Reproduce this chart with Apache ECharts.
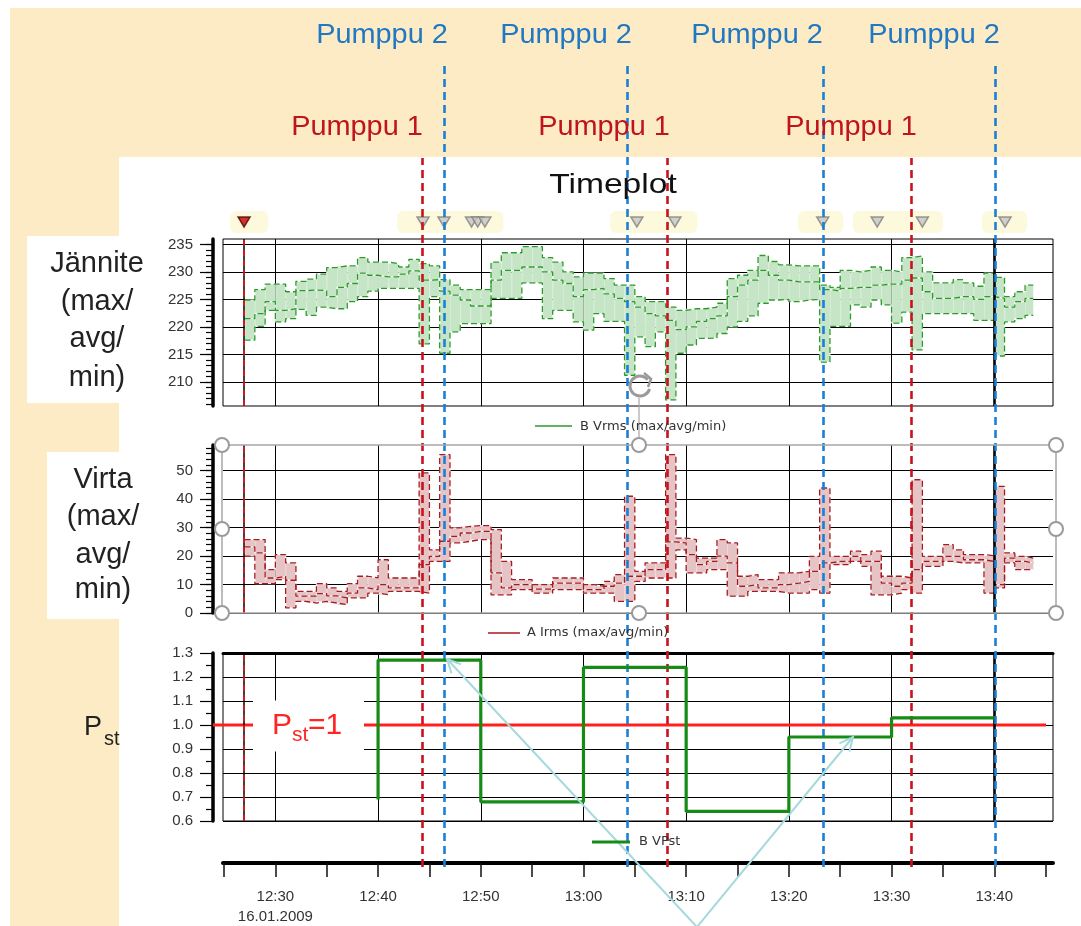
<!DOCTYPE html>
<html>
<head>
<meta charset="utf-8">
<title>Timeplot</title>
<script src="https://cdn.jsdelivr.net/npm/echarts@6/dist/echarts.min.js"></script>
<style>
html,body{margin:0;padding:0;background:#fff;}
#chart{width:1081px;height:926px;}
</style>
</head>
<body>
<div id="chart"></div>
<script>
// ---------------- data (minutes after 12:00, 16.01.2009) ----------------
const minutes = [27,28,29,30,31,32,33,34,35,36,37,38,39,40,41,42,43,44,45,46,47,48,49,50,
  51,52,53,54,55,56,57,58,59,60,61,62,63,64,65,66,67,68,69,70,71,72,73,74,75,76,77,78,79,80,
  81,82,83,84,85,86,87,88,89,90,91,92,93,94,95,96,97,98,99,100,101,102,103];
const endMinute = 103.8;

// B Vrms (V)
const vMax = [224.9,226.8,227.8,227.8,226.4,228.3,228.7,229.6,230.8,231.1,231.1,232.6,231.8,231.8,231.5,230.9,232.3,231.5,231.1,228.6,
  227.6,226.8,226.8,226.8,231.8,233.5,233.5,234.6,234.6,232.6,231.8,230.0,229.1,229.8,
  229.8,228.8,227.6,227.6,225.5,224.6,224.6,223.6,223.0,223.3,223.3,223.6,224.3,228.8,229.4,230.3,233.0,231.9,231.3,231.1,
  231.1,231.1,227.6,227.2,230.3,230.0,230.3,230.9,230.3,230.0,232.6,232.9,230.0,228.0,228.0,228.6,228.0,227.4,229.8,229.0,
  225.5,226.4,227.6];
const vAvg = [221.5,222.4,224.6,223.0,223.3,226.6,226.7,226.6,225.5,227.2,227.9,229.8,229.4,229.1,229.1,229.6,230.2,228.5,228.6,226.5,
  225.8,224.9,223.8,223.8,228.5,230.3,230.3,230.9,230.9,230.0,228.5,227.9,225.5,226.8,
  227.0,226.0,225.2,224.6,223.6,222.4,222.0,221.2,219.5,220.0,221.0,221.5,222.0,225.5,227.6,228.5,230.3,229.4,228.5,228.2,
  228.2,228.2,226.8,226.5,227.0,227.2,227.2,227.6,227.8,227.8,228.5,228.9,226.4,225.2,225.2,225.5,225.5,225.0,225.5,225.2,
  223.6,224.6,225.2];
const vMin = [217.6,220.1,223.0,220.9,221.5,223.2,222.1,223.6,223.3,223.3,224.6,225.5,226.5,227.0,227.0,227.0,227.0,216.9,225.5,215.2,
  219.1,220.6,220.6,220.6,225.2,225.2,225.2,228.0,228.0,221.5,223.0,223.0,220.9,219.4,
  222.4,221.0,221.0,211.2,218.2,216.4,219.1,206.7,215.2,216.7,217.9,218.0,218.8,220.0,221.0,222.0,224.3,224.9,225.0,224.6,
  224.9,225.0,213.6,220.1,220.1,224.0,223.6,224.9,224.0,220.7,222.7,215.8,222.4,222.4,222.4,222.4,222.4,221.2,221.2,214.7,
  220.9,221.5,222.1];

// A Irms (A)
const iMax = [25.8,25.8,15.2,20.5,17.6,7.6,7.6,10.3,8.8,7.6,10.3,12.9,12.3,18.7,12.3,12.3,12.3,49.2,22.2,55.6,
  29.9,30.4,30.7,30.7,29.3,18.1,11.7,11.7,10.0,10.0,12.3,12.3,12.3,10.0,
  9.4,11.1,13.5,41.0,14.6,17.6,17.6,55.6,26.3,25.8,19.3,19.3,25.8,24.6,12.9,13.5,11.7,11.7,14.1,14.1,
  14.6,19.9,43.9,19.9,19.9,21.7,20.5,21.7,12.9,12.9,12.3,46.8,19.9,19.9,24.0,22.2,20.5,20.5,20.1,44.5,
  21.1,19.9,19.3];
const iAvg = [23.2,21.1,12.3,12.9,11.5,5.9,5.9,6.8,6.0,5.3,7.0,8.8,8.2,10.0,8.8,8.8,8.8,17.0,19.9,25.2,
  26.9,28.1,28.7,28.7,14.1,8.8,10.0,10.0,8.4,8.4,10.5,10.5,10.5,8.2,
  8.2,9.4,10.5,12.9,12.9,15.2,15.2,25.0,24.6,20.5,17.0,18.1,20.0,17.6,9.4,10.0,8.8,8.8,10.0,10.5,
  11.1,14.6,17.6,18.1,18.1,19.9,18.1,18.1,10.5,9.4,10.5,15.2,18.1,18.1,19.9,19.9,18.7,18.7,18.1,10.0,
  19.3,18.1,17.6];
const iMin = [20.0,10.3,10.3,11.7,1.8,4.1,3.5,4.1,3.5,2.9,5.3,5.3,7.0,6.4,7.6,7.6,7.6,7.0,18.1,18.1,
  24.6,25.2,25.8,25.8,6.4,6.4,8.2,8.2,7.0,7.0,8.2,8.2,8.2,7.0,
  7.0,7.0,4.1,4.1,11.1,12.3,12.3,12.3,22.2,14.1,14.1,15.2,15.2,5.9,5.9,7.6,7.6,7.6,7.0,7.0,
  7.0,8.2,7.0,17.0,17.0,18.1,16.4,6.4,6.4,7.0,8.2,7.0,16.4,16.4,18.1,17.6,17.6,17.6,7.0,8.8,
  17.6,15.2,15.2];

// B VPst (10-minute values, stamped at interval end)
const pstTimes  = [40, 50, 60, 70, 80, 90, 100];
const pstValues = [0.69, 1.27, 0.68, 1.24, 0.64, 0.95, 1.03];
const pstLimit = 1.0;
const limitStart = 23.9, limitEnd = 105;

// annotations (minutes)
const pump1Times = [44.28, 68.14, 91.9];
const pump2Times = [46.42, 64.24, 83.3, 100.07];
const cursorTimes = [26.95, 100.0];
const alarmTimes = [26.95];
const eventTimes = [44.38, 46.42, 49.1, 49.7, 50.4, 65.2, 68.9, 83.3, 88.6, 93.0, 101.05];
const eventGlows = [[25.6,29.3],[41.85,52.2],[62.6,71.1],[80.9,85.3],[86.25,95.0],[98.8,103.2]];

// axis ticks
const xTicks = [25,30,35,40,45,50,55,60,65,70,75,80,85,90,95,100,105];
const xLabels = [30,40,50,60,70,80,90,100];
const gridTimes = [30,40,50,60,70,80,90,100];
const dateLabel = '16.01.2009';
const vTicks = [210,215,220,225,230,235];
const vMinorTicks = [206,207,208,209,210,211,212,213,214,215,216,217,218,219,220,221,222,223,224,225,226,227,228,229,230,231,232,233,234,235];
const iTicks = [0,10,20,30,40,50];
const iMinorTicks = [0,2,4,6,8,10,12,14,16,18,20,22,24,26,28,30,32,34,36,38,40,42,44,46,48,50,52,54,56,58];
const pTicks = [0.6,0.7,0.8,0.9,1.0,1.1,1.2,1.3];
const pMinorTicks = [0.65,0.75,0.85,0.95,1.05,1.15,1.25];

const X_MIN = 24.9, X_MAX = 105.72;
const V_MIN = 205.6, V_MAX = 236;
const I_MIN = 0, I_MAX = 59;
const P_MIN = 0.6, P_MAX = 1.3;

// ---------------- styles ----------------
const FONT = '"Liberation Sans", Arial, sans-serif';
const BEIGE = '#fdebc6';
const vLine = '#2b9a2b', vBand = '#c6e5c6';
const iLine = '#a51a1f', iBand = '#e6c3c5';
const pstColor = '#168c16';
const blueDash = '#1b7fd6', redDash = '#c8121c';

function hhmm(m){ const h = 12 + Math.floor(m/60); const mm = Math.round(m % 60); return h + ':' + (mm < 10 ? '0' : '') + mm; }
function bandRows(lo, hi){ return minutes.map((t,i)=>[t, i+1 < minutes.length ? minutes[i+1] : endMinute, lo[i], hi[i]]); }
function stepLine(vals){ const d = minutes.map((t,i)=>[t, vals[i]]); d.push([endMinute, vals[vals.length-1]]); return d; }

function bandSeries(xi, yi, lo, hi, color){
  return {type:'custom', xAxisIndex:xi, yAxisIndex:yi, silent:true, z:1, clip:true,
    data: bandRows(lo, hi), encode:{x:[0,1], y:[2,3]},
    renderItem: function(params, api){
      const a = api.coord([api.value(0), api.value(3)]);
      const b = api.coord([api.value(1), api.value(2)]);
      return {type:'group', children:[
        {type:'rect', shape:{x:a[0], y:a[1], width:b[0]-a[0], height:b[1]-a[1]}, style:{fill:color}},
        {type:'line', shape:{x1:a[0]+0.5, y1:a[1], x2:a[0]+0.5, y2:b[1]}, style:{stroke:'rgba(255,255,255,0.3)', lineWidth:0.8}}
      ]};
    }};
}
function stepSeries(xi, yi, name, vals, color){
  return [
    {type:'line', name:name+'_u', xAxisIndex:xi, yAxisIndex:yi, step:'end', data:stepLine(vals), symbol:'none', silent:true, z:2,
      lineStyle:{color:'#ffffff', width:1.3, opacity:0.7}},
    {type:'line', name:name, xAxisIndex:xi, yAxisIndex:yi, step:'end', data:stepLine(vals), symbol:'none', silent:true, z:3,
      lineStyle:{color:color, width:1.3, type:[6,3]}}
  ];
}
function cursorSeries(xi, yi){
  return {type:'line', xAxisIndex:xi, yAxisIndex:yi, data:[], symbol:'none', silent:true, z:4,
    markLine:{silent:true, symbol:['none','none'], label:{show:false}, animation:false,
      data:[
        {xAxis: cursorTimes[0], lineStyle:{color:'#000', width:1.5, type:'solid'}},
        {xAxis: cursorTimes[0], lineStyle:{color:'#e8141c', width:1.6, type:[6,4]}},
        {xAxis: cursorTimes[1], lineStyle:{color:'#000', width:2.6, type:'solid'}}
      ]}};
}
function pumpSeries(xi, yi, times, color){
  return {type:'line', xAxisIndex:xi, yAxisIndex:yi, data:[], symbol:'none', silent:true, z:8,
    markLine:{silent:true, symbol:['none','none'], label:{show:false}, animation:false,
      lineStyle:{color:color, width:2.6, type:[8,5]},
      data: times.map(t=>({xAxis:t}))}};
}
function xPanel(g){
  return {type:'value', gridIndex:g, min:X_MIN, max:X_MAX,
    axisLine:{show:false, onZero:false}, axisTick:{show:false, customValues:gridTimes},
    axisLabel:{show:false}, splitLine:{show:true, lineStyle:{color:'#000', width:1}}};
}
function xHidden(g, mn, mx){ return {type:'value', gridIndex:g, min:mn, max:mx, show:false}; }
function yHidden(g, mn, mx){ return {type:'value', gridIndex:g, min:mn, max:mx, show:false}; }
function yMinor(g, mn, mx, ticks){
  return {type:'value', gridIndex:g, min:mn, max:mx, position:'left', offset:10,
    axisLine:{show:true, onZero:false, lineStyle:{color:'#000', width:3.5}},
    axisTick:{show:true, customValues:ticks, length:7, lineStyle:{color:'#000', width:1.2}},
    axisLabel:{show:false}, splitLine:{show:false}};
}
function yMajor(g, mn, mx, ticks, fmt){
  return {type:'value', gridIndex:g, min:mn, max:mx, position:'left', offset:10,
    axisLine:{show:false, onZero:false},
    axisTick:{show:true, customValues:ticks, length:13, lineStyle:{color:'#000', width:1.2}},
    axisLabel:{show:true, customValues:ticks, formatter:fmt, margin:20, fontSize:15, color:'#333', fontFamily:FONT},
    splitLine:{show:true, lineStyle:{color:'#000', width:1}}};
}
function gridBox(top, height, left, right, show, border){
  return {left:left, right:right, top:top, height:height, show:!!show, borderColor:border||'#000', borderWidth:1,
    backgroundColor:'transparent', containLabel:false, outerBoundsMode:'none'};
}

function arrowHead(tip, from, len, ang){
  const dx = from[0]-tip[0], dy = from[1]-tip[1];
  const L = Math.hypot(dx, dy), ux = dx/L, uy = dy/L;
  const c = Math.cos(ang), s = Math.sin(ang);
  return [[tip[0]+len*(ux*c-uy*s), tip[1]+len*(uy*c+ux*s)], tip, [tip[0]+len*(ux*c+uy*s), tip[1]+len*(uy*c-ux*s)]];
}

function txt(x, y, text, size, color, align, opts){
  const o = {type:'text', x:x, y:y, z:20, silent:true,
    style:{text:text, fontSize:size, fontFamily:FONT, fill:color, textAlign:align||'center', align:align||'center',
      textVerticalAlign:'middle', verticalAlign:'middle'}};
  if (opts) Object.assign(o, opts);
  return o;
}

const arrowA = [447, 659], arrowV = [697, 927], arrowC = [853, 737];

const graphics = [
  // slide background
  {type:'rect', z:-100, silent:true, shape:{x:10, y:8, width:1071, height:149}, style:{fill:BEIGE}},
  {type:'rect', z:-100, silent:true, shape:{x:10, y:157, width:109, height:769}, style:{fill:BEIGE}},
  {type:'rect', z:-99, silent:true, shape:{x:27, y:236, width:92, height:167}, style:{fill:'#fff'}},
  {type:'rect', z:-99, silent:true, shape:{x:47, y:452, width:72, height:167}, style:{fill:'#fff'}},
  // left labels
  txt(97, 264, 'Jännite', 29, '#222'), txt(97, 302, '(max/', 29, '#222'), txt(97, 339, 'avg/', 29, '#222'), txt(97, 378, 'min)', 29, '#222'),
  txt(103, 480, 'Virta', 29, '#222'), txt(103, 517, '(max/', 29, '#222'), txt(103, 555, 'avg/', 29, '#222'), txt(103, 590, 'min)', 29, '#222'),
  txt(84, 728, 'P', 27, '#222', 'left'), txt(104, 739, 'st', 20, '#222', 'left'),
  // title and pump labels
  txt(613, 185, 'Timeplot', 28, '#111', 'center', {scaleX:1.2}),
  txt(382, 36, 'Pumppu 2', 27, '#1f78c1', 'center', {scaleX:1.07}),
  txt(566, 36, 'Pumppu 2', 27, '#1f78c1', 'center', {scaleX:1.07}),
  txt(757, 36, 'Pumppu 2', 27, '#1f78c1', 'center', {scaleX:1.07}),
  txt(934, 36, 'Pumppu 2', 27, '#1f78c1', 'center', {scaleX:1.07}),
  txt(357, 128, 'Pumppu 1', 27, '#c0141c', 'center', {scaleX:1.07}),
  txt(604, 128, 'Pumppu 1', 27, '#c0141c', 'center', {scaleX:1.07}),
  txt(851, 128, 'Pumppu 1', 27, '#c0141c', 'center', {scaleX:1.07}),
  // Pst=1 label
  {type:'rect', z:15, silent:true, shape:{x:253, y:700.5, width:111, height:51}, style:{fill:'#fff'}},
  txt(272, 726, 'P', 30, '#ff2525', 'left'), txt(292, 735, 'st', 21, '#ff2525', 'left'), txt(308, 726, '=1', 30, '#ff2525', 'left'),
  // legends
  {type:'line', z:20, silent:true, shape:{x1:535, y1:426, x2:572, y2:426}, style:{stroke:vLine, lineWidth:1.5}},
  {type:'text', z:20, silent:true, x:580, y:427, style:{text:'B Vrms (max/avg/min)', fontSize:13, fontFamily:'"DejaVu Sans", sans-serif', fill:'#333', textAlign:'left', align:'left', textVerticalAlign:'middle', verticalAlign:'middle'}},
  {type:'line', z:20, silent:true, shape:{x1:488, y1:633, x2:520, y2:633}, style:{stroke:iLine, lineWidth:1.5}},
  {type:'text', z:20, silent:true, x:527, y:633, style:{text:'A Irms (max/avg/min)', fontSize:13, fontFamily:'"DejaVu Sans", sans-serif', fill:'#333', textAlign:'left', align:'left', textVerticalAlign:'middle', verticalAlign:'middle'}},
  {type:'line', z:20, silent:true, shape:{x1:592, y1:842, x2:630, y2:842}, style:{stroke:pstColor, lineWidth:3}},
  {type:'text', z:20, silent:true, x:639, y:842, style:{text:'B VPst', fontSize:13, fontFamily:'"DejaVu Sans", sans-serif', fill:'#333', textAlign:'left', align:'left', textVerticalAlign:'middle', verticalAlign:'middle'}},
  // selection frame of the current panel
  {type:'rect', z:12, silent:true, shape:{x:222, y:445, width:834, height:168}, style:{fill:null, stroke:'#a6a6a6', lineWidth:1.5}},
  {type:'line', z:12, silent:true, shape:{x1:639, y1:398, x2:639, y2:438}, style:{stroke:'#a6a6a6', lineWidth:1.2}},
  {type:'arc', z:12, silent:true, shape:{cx:640, cy:386, r:10, startAngle:0.3, endAngle:5.6}, style:{stroke:'#9a9a9a', lineWidth:3, fill:null}},
  {type:'polyline', z:12, silent:true, shape:{points:[[644,373],[651,379],[648,387]]}, style:{stroke:'#9a9a9a', lineWidth:2.5, fill:null}}
];
[[222,445],[222,529],[222,613],[639,445],[639,613],[1056,445],[1056,529],[1056,613]].forEach(function(p){
  graphics.push({type:'circle', z:13, silent:true, shape:{cx:p[0], cy:p[1], r:7}, style:{fill:'#fff', stroke:'#9a9a9a', lineWidth:2}});
});
// cyan annotation arrows
graphics.push({type:'polyline', z:18, silent:true, shape:{points:[arrowA, arrowV, arrowC]}, style:{stroke:'#a6d9dc', lineWidth:2, fill:null}});
graphics.push({type:'polyline', z:18, silent:true, shape:{points:arrowHead(arrowA, arrowV, 15, 0.45)}, style:{stroke:'#a6d9dc', lineWidth:2, fill:null}});
graphics.push({type:'polyline', z:18, silent:true, shape:{points:arrowHead(arrowC, arrowV, 15, 0.45)}, style:{stroke:'#a6d9dc', lineWidth:2, fill:null}});

const option = {
  animation:false,
  backgroundColor:'#ffffff',
  textStyle:{fontFamily:FONT},
  grid:[
    gridBox(239, 167, 223, 28, true, '#000'),   // 0 voltage
    gridBox(445, 168, 223, 28, false),          // 1 current
    gridBox(653, 168, 223, 28, true, '#000'),   // 2 Pst
    gridBox(830, 33, 223, 28, false),           // 3 time axis
    gridBox(65, 802, 223, 28, false),           // 4 Pumppu 2 lines
    gridBox(158, 709, 223, 28, false),          // 5 Pumppu 1 lines
    gridBox(211, 22, 223, 28, false),           // 6 event markers
    gridBox(653, 168, 213, 35, false)           // 7 Pst limit
  ],
  xAxis:[
    xPanel(0), xPanel(1), xPanel(2),
    {type:'value', gridIndex:3, min:X_MIN, max:X_MAX, position:'bottom',
      axisLine:{show:true, onZero:false, lineStyle:{color:'#000', width:4}},
      axisTick:{show:true, customValues:xTicks, length:14, lineStyle:{color:'#111', width:1.5}},
      axisLabel:{show:true, customValues:xLabels, margin:24, fontSize:15, color:'#333', lineHeight:20, fontFamily:FONT,
        formatter:function(v){ const s = hhmm(v); return v === xLabels[0] ? s + '\n' + dateLabel : s; }},
      splitLine:{show:false}},
    xHidden(4, X_MIN, X_MAX), xHidden(5, X_MIN, X_MAX), xHidden(6, X_MIN, X_MAX), xHidden(7, limitStart, limitEnd),
    {type:'value', gridIndex:2, min:X_MIN, max:X_MAX, position:'top',
      axisLine:{show:true, onZero:false, lineStyle:{color:'#000', width:3}}, axisTick:{show:false}, axisLabel:{show:false}, splitLine:{show:false}}
  ],
  yAxis:[
    yMinor(0, V_MIN, V_MAX, vMinorTicks),
    yMajor(0, V_MIN, V_MAX, vTicks, function(v){ return String(Math.round(v)); }),
    yMinor(1, I_MIN, I_MAX, iMinorTicks),
    yMajor(1, I_MIN, I_MAX, iTicks, function(v){ return String(Math.round(v)); }),
    yMinor(2, P_MIN, P_MAX, pMinorTicks),
    yMajor(2, P_MIN, P_MAX, pTicks, function(v){ return v.toFixed(1); }),
    yHidden(3, 0, 1), yHidden(4, 0, 1), yHidden(5, 0, 1), yHidden(6, 0, 1), yHidden(7, P_MIN, P_MAX)
  ],
  series:[].concat(
    [bandSeries(0, 0, vMin, vMax, vBand)],
    stepSeries(0, 0, 'B Vrms max', vMax, vLine),
    stepSeries(0, 0, 'B Vrms avg', vAvg, vLine),
    stepSeries(0, 0, 'B Vrms min', vMin, vLine),
    [cursorSeries(0, 0)],
    [bandSeries(1, 2, iMin, iMax, iBand)],
    stepSeries(1, 2, 'A Irms max', iMax, iLine),
    stepSeries(1, 2, 'A Irms avg', iAvg, iLine),
    stepSeries(1, 2, 'A Irms min', iMin, iLine),
    [cursorSeries(1, 2)],
    [{type:'line', name:'B VPst', xAxisIndex:2, yAxisIndex:4, step:'start', symbol:'none', silent:true, z:5,
      data: pstTimes.map((t,i)=>[t, pstValues[i]]), lineStyle:{color:pstColor, width:3.2}}],
    [cursorSeries(2, 4)],
    [{type:'line', name:'Pst=1', xAxisIndex:7, yAxisIndex:10, symbol:'none', silent:true, z:4,
      data:[[limitStart, pstLimit],[limitEnd, pstLimit]], lineStyle:{color:'#ff1f1f', width:3}}],
    [pumpSeries(4, 7, pump2Times, blueDash), pumpSeries(5, 8, pump1Times, redDash)],
    [{type:'custom', xAxisIndex:6, yAxisIndex:9, silent:true, z:1, data:eventGlows, encode:{x:[0,1]},
      renderItem:function(params, api){
        const a = api.coord([api.value(0), 1]), b = api.coord([api.value(1), 0]);
        return {type:'rect', shape:{x:a[0], y:a[1], width:b[0]-a[0], height:b[1]-a[1], r:6}, style:{fill:'rgba(253,248,212,0.8)'}};
      }},
     {type:'scatter', xAxisIndex:6, yAxisIndex:9, silent:true, z:3, symbol:'triangle', symbolRotate:180, symbolSize:[12,10],
      data:eventTimes.map(t=>[t,0.5]), itemStyle:{color:'#c4c4c4', borderColor:'#7f7f7f', borderWidth:1.5}},
     {type:'scatter', xAxisIndex:6, yAxisIndex:9, silent:true, z:3, symbol:'triangle', symbolRotate:180, symbolSize:[12,10],
      data:alarmTimes.map(t=>[t,0.5]), itemStyle:{color:'#c80000', borderColor:'#500000', borderWidth:1.5}}]
  ),
  graphic: graphics
};

const chart = echarts.init(document.getElementById('chart'), null, {renderer:'canvas', width:1081, height:926});
chart.setOption(option);
</script>
</body>
</html>
